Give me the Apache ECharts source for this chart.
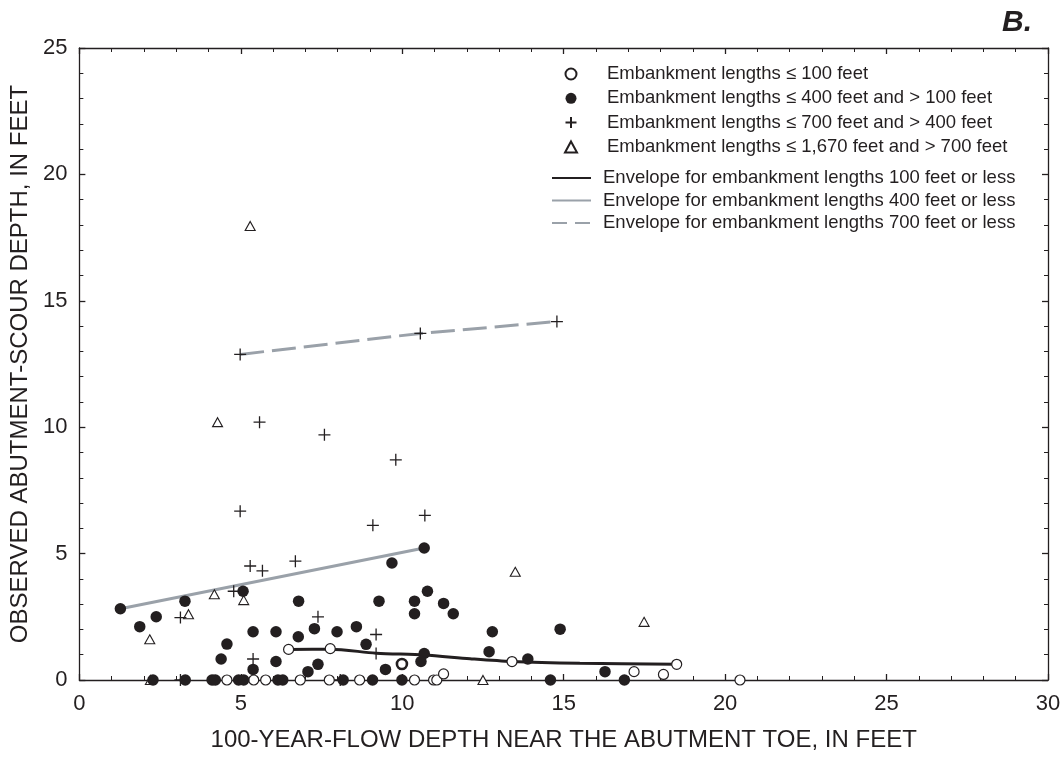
<!DOCTYPE html>
<html><head><meta charset="utf-8">
<script src="https://cdn.jsdelivr.net/npm/echarts@6/dist/echarts.min.js"></script>
<style>html,body{margin:0;padding:0;background:#fff}#c{width:1064px;height:757px}</style>
</head><body><div id="c"></div>
<script>
// ---- data ----
const openCircles = [
  [4.57,0],[5.40,0],[5.77,0],[6.84,0],[7.74,0],[8.68,0],[10.38,0],[10.97,0],[11.07,0],[20.46,0],
  [6.48,1.21],[7.77,1.24],[11.28,0.24],[13.40,0.73],[17.18,0.33],[18.09,0.22],[18.50,0.62]
];
const boldOpen = [[9.99,0.63]];
const filledCircles = [
  [1.27,2.82],[1.87,2.11],[2.38,2.50],[3.27,3.12],[5.07,3.51],[5.38,1.91],[6.09,1.91],[4.57,1.42],[4.39,0.83],[5.38,0.42],[6.09,0.73],
  [10.68,5.22],[9.68,4.63],[6.79,3.12],[9.28,3.12],[10.38,3.12],[10.78,3.51],[11.28,3.03],[10.38,2.62],[11.58,2.62],
  [6.78,1.71],[7.28,2.03],[7.98,1.91],[8.58,2.11],[8.88,1.41],[10.68,1.05],[7.39,0.62],[7.08,0.33],[9.48,0.42],[10.58,0.73],
  [12.79,1.91],[14.89,2.01],[12.69,1.12],[13.89,0.83],[16.28,0.33],
  [2.28,0],[3.28,0],[4.11,0],[4.21,0],[4.93,0],[5.09,0],[6.15,0],[6.30,0],[8.17,0],[9.08,0],[9.99,0],[14.59,0],[16.88,0]
];
const plusMarks = [
  [4.98,12.88],[10.56,13.71],[14.79,14.18],[5.58,10.2],[7.59,9.7],[4.98,6.68],[9.8,8.71],[10.7,6.51],[9.09,6.12],
  [6.69,4.7],[5.29,4.51],[5.67,4.32],[4.78,3.51],[3.13,2.47],[7.39,2.5],[9.19,1.8],[9.19,1.05],[5.38,0.83],[3.13,0],[8.08,0]
];
const triangles = [
  [5.29,17.96],[4.28,10.2],[4.18,3.39],[5.09,3.16],[3.38,2.6],[2.18,1.61],[13.5,4.28],[17.49,2.3],[2.2,0],[12.5,0]
];
const env100 = [[6.48,1.21],[7.77,1.22],[9.19,1.06],[10.68,0.99],[12.1,0.84],[13.4,0.73],[15.5,0.66],[18.5,0.62]];
const env400 = [[1.27,2.82],[10.68,5.22]];
const env700 = [[4.98,12.88],[10.56,13.71],[14.79,14.18]];
const pointNames = [
  'Embankment lengths ≤ 100 feet',
  'Embankment lengths ≤ 400 feet and > 100 feet',
  'Embankment lengths ≤ 700 feet and > 400 feet',
  'Embankment lengths ≤ 1,670 feet and > 700 feet'
];
const lineNames = [
  'Envelope for embankment lengths 100 feet or less',
  'Envelope for embankment lengths 400 feet or less',
  'Envelope for embankment lengths 700 feet or less'
];
const xTitle = '100-YEAR-FLOW DEPTH NEAR THE ABUTMENT TOE, IN FEET';
const yTitle = 'OBSERVED ABUTMENT-SCOUR DEPTH, IN FEET';

// ---- chart ----
const INK = '#231f20', GRAY = '#9aa1a9';
const FONT = 'Liberation Sans, Arial, sans-serif';
const chart = echarts.init(document.getElementById('c'), null, {renderer: 'canvas'});

function axisCommon(extra) {
  return Object.assign({
    type: 'value',
    axisLine: {show: true, onZero: false, lineStyle: {color: INK, width: 1.3}},
    axisTick: {show: true, inside: true, length: 6, lineStyle: {color: INK, width: 1.3}},
    minorTick: {show: true, splitNumber: 5, length: 4, lineStyle: {color: INK, width: 1}},
    splitLine: {show: false},
    axisLabel: {show: false}
  }, extra);
}
const labelStyle = {show: true, fontSize: 22, color: INK, fontFamily: FONT};
const nameStyle = {fontSize: 24, color: INK, fontFamily: FONT};

const plusPath = 'path://M6,0L6,12M0,6L12,6';

chart.setOption({
  animation: false,
  backgroundColor: '#fff',
  title: {
    text: 'B.', right: 32, top: 8, padding: 0,
    textStyle: {fontSize: 30, fontStyle: 'italic', fontWeight: 'bold', color: INK, fontFamily: FONT}
  },
  grid: {left: 79, right: 16, top: 48, bottom: 75},
  xAxis: [
    axisCommon({min: 0, max: 30, interval: 5, position: 'bottom',
      axisLabel: Object.assign({margin: 13}, labelStyle),
      name: xTitle, nameLocation: 'middle', nameGap: 48, nameTextStyle: nameStyle}),
    axisCommon({min: 0, max: 30, interval: 5, position: 'top'})
  ],
  yAxis: [
    axisCommon({min: 0, max: 25, interval: 5, position: 'left',
      axisLabel: Object.assign({margin: 12}, labelStyle),
      name: yTitle, nameLocation: 'middle', nameGap: 47, nameRotate: 90, nameTextStyle: nameStyle}),
    axisCommon({min: 0, max: 25, interval: 5, position: 'right'})
  ],
  legend: [
    {
      data: pointNames, orient: 'vertical', left: 564, top: 64, padding: 0,
      itemWidth: 12, itemHeight: 11, itemGap: 4.3, selectedMode: false,
      textStyle: {fontSize: 18.5, color: INK, fontFamily: FONT, lineHeight: 20, padding: [0, 0, 0, 25]}
    },
    {
      data: [
        {name: lineNames[0]}, {name: lineNames[1]},
        {name: lineNames[2], lineStyle: {type: [15, 8]}}
      ],
      orient: 'vertical', left: 551, top: 168, padding: 0,
      itemWidth: 39, itemHeight: 14, itemGap: 2.5, selectedMode: false,
      itemStyle: {color: 'rgba(0,0,0,0)', borderWidth: 0, opacity: 0},
      textStyle: {fontSize: 18.5, color: INK, fontFamily: FONT, lineHeight: 20, padding: [0, 0, 0, 7]}
    }
  ],
  series: [
    {name: lineNames[0], type: 'line', data: env100, smooth: 0.3, symbol: 'none', showSymbol: false,
      lineStyle: {color: INK, width: 3}, itemStyle: {color: INK}, z: 2},
    {name: lineNames[1], type: 'line', data: env400, symbol: 'none', showSymbol: false,
      lineStyle: {color: GRAY, width: 3}, itemStyle: {color: GRAY}, z: 2},
    {name: lineNames[2], type: 'line', data: env700, symbol: 'none', showSymbol: false,
      lineStyle: {color: GRAY, width: 3, type: [24, 8]}, itemStyle: {color: GRAY}, z: 2},
    {name: pointNames[0], type: 'scatter', symbol: 'circle', symbolSize: 10,
      data: openCircles.concat(boldOpen.map(p => ({value: p, itemStyle: {borderWidth: 2.6}}))),
      itemStyle: {color: '#fff', borderColor: INK, borderWidth: 1.2, opacity: 1}, z: 4},
    {name: pointNames[1], type: 'scatter', symbol: 'circle', symbolSize: 11.5,
      data: filledCircles, itemStyle: {color: INK, opacity: 1}, z: 5},
    {name: pointNames[2], type: 'scatter', symbol: plusPath, symbolSize: 12,
      data: plusMarks, itemStyle: {color: 'rgba(0,0,0,0)', borderColor: INK, borderWidth: 1.3, opacity: 1}, z: 6},
    {name: pointNames[3], type: 'scatter', symbol: 'triangle', symbolSize: [10, 9],
      data: triangles, itemStyle: {color: '#fff', borderColor: INK, borderWidth: 1.1, opacity: 1}, z: 4}
  ]
});
</script>
</body></html>
